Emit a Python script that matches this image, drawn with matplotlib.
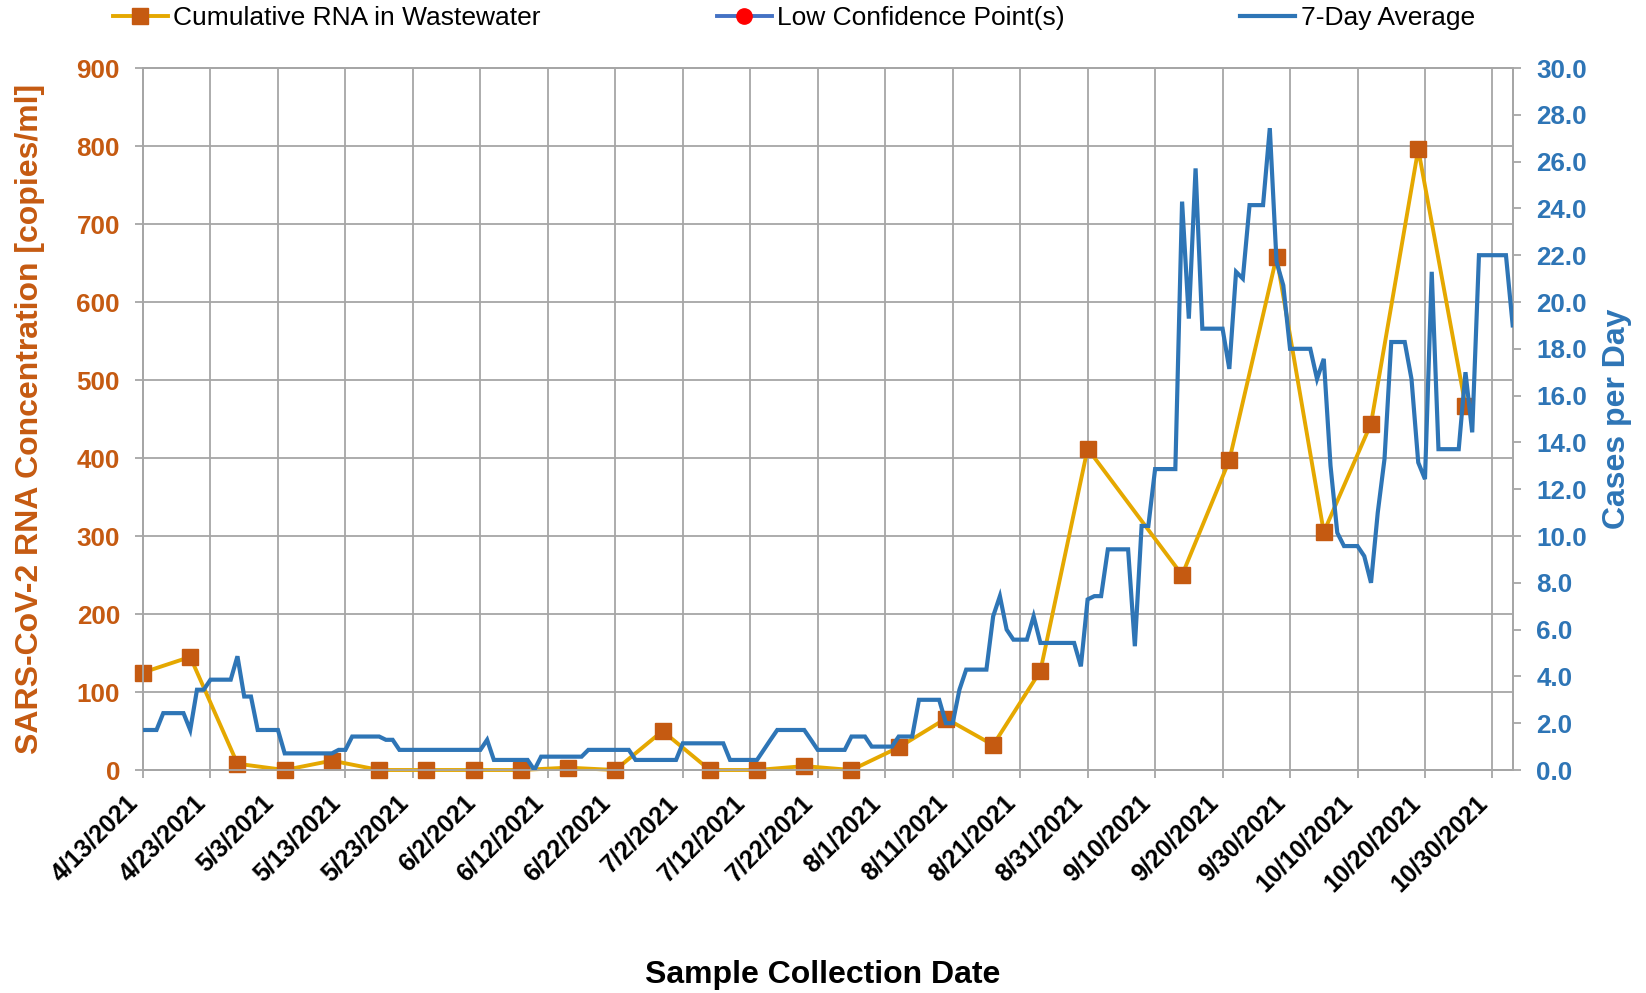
import matplotlib
matplotlib.use('Agg')
import matplotlib.pyplot as plt
from matplotlib.lines import Line2D
from matplotlib.ticker import FormatStrFormatter
import pandas as pd
import numpy as np

plt.rcParams['font.family'] = ['Liberation Sans', 'DejaVu Sans']

# ---------------- data ----------------
sample_dates = ['2021-04-13', '2021-04-20', '2021-04-27', '2021-05-04', '2021-05-11',
                '2021-05-18', '2021-05-25', '2021-06-01', '2021-06-08', '2021-06-15',
                '2021-06-22', '2021-06-29', '2021-07-06', '2021-07-13', '2021-07-20',
                '2021-07-27', '2021-08-03', '2021-08-10', '2021-08-17', '2021-08-24',
                '2021-08-31', '2021-09-14', '2021-09-21', '2021-09-28', '2021-10-05',
                '2021-10-12', '2021-10-19', '2021-10-26']
rna_values = [125, 145, 8, 0, 12, 0, 0, 0, 0, 3,
              0, 50, 0, 0, 5, 0, 29, 66, 32, 127,
              412, 250, 397, 658, 305, 444, 796, 467]

avg_start = '2021-04-13'
avg_values = [
    1.71, 1.71, 1.71, 2.43, 2.43, 2.43, 2.43, 1.71, 3.43, 3.43,
    3.86, 3.86, 3.86, 3.86, 4.86, 3.14, 3.14, 1.71, 1.71, 1.71,
    1.71, 0.71, 0.71, 0.71, 0.71, 0.71, 0.71, 0.71, 0.71, 0.86,
    0.86, 1.43, 1.43, 1.43, 1.43, 1.43, 1.29, 1.29, 0.86, 0.86,
    0.86, 0.86, 0.86, 0.86, 0.86, 0.86, 0.86, 0.86, 0.86, 0.86,
    0.86, 1.29, 0.43, 0.43, 0.43, 0.43, 0.43, 0.43, 0.00, 0.57,
    0.57, 0.57, 0.57, 0.57, 0.57, 0.57, 0.86, 0.86, 0.86, 0.86,
    0.86, 0.86, 0.86, 0.43, 0.43, 0.43, 0.43, 0.43, 0.43, 0.43,
    1.14, 1.14, 1.14, 1.14, 1.14, 1.14, 1.14, 0.43, 0.43, 0.43,
    0.43, 0.43, 0.86, 1.29, 1.71, 1.71, 1.71, 1.71, 1.71, 1.29,
    0.86, 0.86, 0.86, 0.86, 0.86, 1.43, 1.43, 1.43, 1.00, 1.00,
    1.00, 1.00, 1.43, 1.43, 1.43, 3.00, 3.00, 3.00, 3.00, 2.00,
    2.00, 3.43, 4.29, 4.29, 4.29, 4.29, 6.57, 7.43, 6.00, 5.57,
    5.57, 5.57, 6.57, 5.43, 5.43, 5.43, 5.43, 5.43, 5.43, 4.43,
    7.29, 7.43, 7.43, 9.43, 9.43, 9.43, 9.43, 5.29, 10.43, 10.43,
    12.86, 12.86, 12.86, 12.86, 24.29, 19.29, 25.71, 18.86, 18.86, 18.86,
    18.86, 17.14, 21.29, 21.00, 24.14, 24.14, 24.14, 27.43, 21.71, 20.71,
    18.00, 18.00, 18.00, 18.00, 16.71, 17.57, 13.00, 10.14, 9.57, 9.57,
    9.57, 9.14, 8.00, 11.00, 13.29, 18.29, 18.29, 18.29, 16.71, 13.14,
    12.43, 21.29, 13.71, 13.71, 13.71, 13.71, 17.00, 14.43, 22.00, 22.00,
    22.00, 22.00, 22.00, 19.00]

tick_dates = ['2021-04-13', '2021-04-23', '2021-05-03', '2021-05-13', '2021-05-23',
              '2021-06-02', '2021-06-12', '2021-06-22', '2021-07-02', '2021-07-12',
              '2021-07-22', '2021-08-01', '2021-08-11', '2021-08-21', '2021-08-31',
              '2021-09-10', '2021-09-20', '2021-09-30', '2021-10-10', '2021-10-20',
              '2021-10-30']
tick_labels = ['4/13/2021', '4/23/2021', '5/3/2021', '5/13/2021', '5/23/2021',
               '6/2/2021', '6/12/2021', '6/22/2021', '7/2/2021', '7/12/2021',
               '7/22/2021', '8/1/2021', '8/11/2021', '8/21/2021', '8/31/2021',
               '9/10/2021', '9/20/2021', '9/30/2021', '10/10/2021', '10/20/2021',
               '10/30/2021']
x_start = '2021-04-13'
x_end = '2021-11-02'

# ---------------- style ----------------
ORANGE = '#C55A11'
YELLOW = '#E5A800'
BLUE = '#2E75B6'
LOWBLUE = '#4472C4'
GRID = '#A6A6A6'

fig = plt.figure(figsize=(16.46, 9.93), dpi=100)
ax = fig.add_axes([143 / 1646, 1 - 770 / 993, 1369.7 / 1646, 702 / 993])
ax2 = ax.twinx()

sd = pd.to_datetime(sample_dates)
ad = pd.date_range(avg_start, periods=len(avg_values), freq='D')

ax.plot(sd, rna_values, color=YELLOW, lw=2.8, marker='s', ms=12,
        mfc=ORANGE, mec=ORANGE, zorder=3, clip_on=False)
ax2.plot(ad, avg_values, color=BLUE, lw=3.0, zorder=3, solid_joinstyle='miter')

ax.set_ylim(0, 900)
ax.set_yticks(np.arange(0, 901, 100))
ax2.set_ylim(0, 30)
ax2.set_yticks(np.arange(0, 30.01, 2))
ax2.yaxis.set_major_formatter(FormatStrFormatter('%.1f'))

ax.set_xlim(pd.Timestamp(x_start), pd.Timestamp(x_end))
ax.set_xticks(pd.to_datetime(tick_dates))
ax.set_xticklabels(tick_labels, rotation=45, ha='right')

ax.grid(True, color=GRID, lw=1.3)
ax.set_axisbelow(True)

for a in (ax, ax2):
    for s in a.spines.values():
        s.set_color(GRID)
        s.set_linewidth(1.3)

ax.tick_params(axis='y', direction='out', length=5.5, width=1.3, color=GRID,
               labelcolor=ORANGE, labelsize=18.7, pad=11)
ax.tick_params(axis='x', direction='out', length=6, width=1.3, color=GRID,
               labelcolor='black', labelsize=18, pad=9)
ax2.tick_params(axis='y', direction='out', length=6, width=1.3, color=GRID,
                labelcolor=BLUE, labelsize=18.7, pad=11)
for lbl in ax.get_yticklabels() + ax.get_xticklabels() + ax2.get_yticklabels():
    lbl.set_fontweight('bold')

ax.set_ylabel('SARS-CoV-2 RNA Concentration [copies/ml]', color=ORANGE,
              fontsize=23, fontweight='bold')
ax.yaxis.set_label_coords(-0.0825, 0.5)
ax.yaxis.label.set_va('center')

ax2.set_ylabel('Cases per Day', color=BLUE, fontsize=23, fontweight='bold')
ax2.yaxis.set_label_coords(1.0765, 0.5)
ax2.yaxis.label.set_va('center')

ax.set_xlabel('Sample Collection Date', fontsize=23, fontweight='bold', color='black')
ax.xaxis.set_label_coords(0.4965, -0.292)
ax.xaxis.label.set_va('center')

handles = [
    Line2D([], [], color=YELLOW, lw=2.8, marker='s', ms=12, mfc=ORANGE, mec=ORANGE),
    Line2D([], [], color=LOWBLUE, lw=2.8, marker='o', ms=11, mfc='#FF0000', mec='#FF0000'),
    Line2D([], [], color=BLUE, lw=3.0),
]
labels = ['Cumulative RNA in Wastewater', 'Low Confidence Point(s)', '7-Day Average']
fig.legend(handles, labels, loc='center left', bbox_to_anchor=(113 / 1646, 1 - 18 / 993),
           ncol=3, frameon=False, fontsize=19, handlelength=2.08, handletextpad=0.2,
           columnspacing=6.67, borderpad=0, borderaxespad=0)

fig.savefig('out.png', dpi=100)
